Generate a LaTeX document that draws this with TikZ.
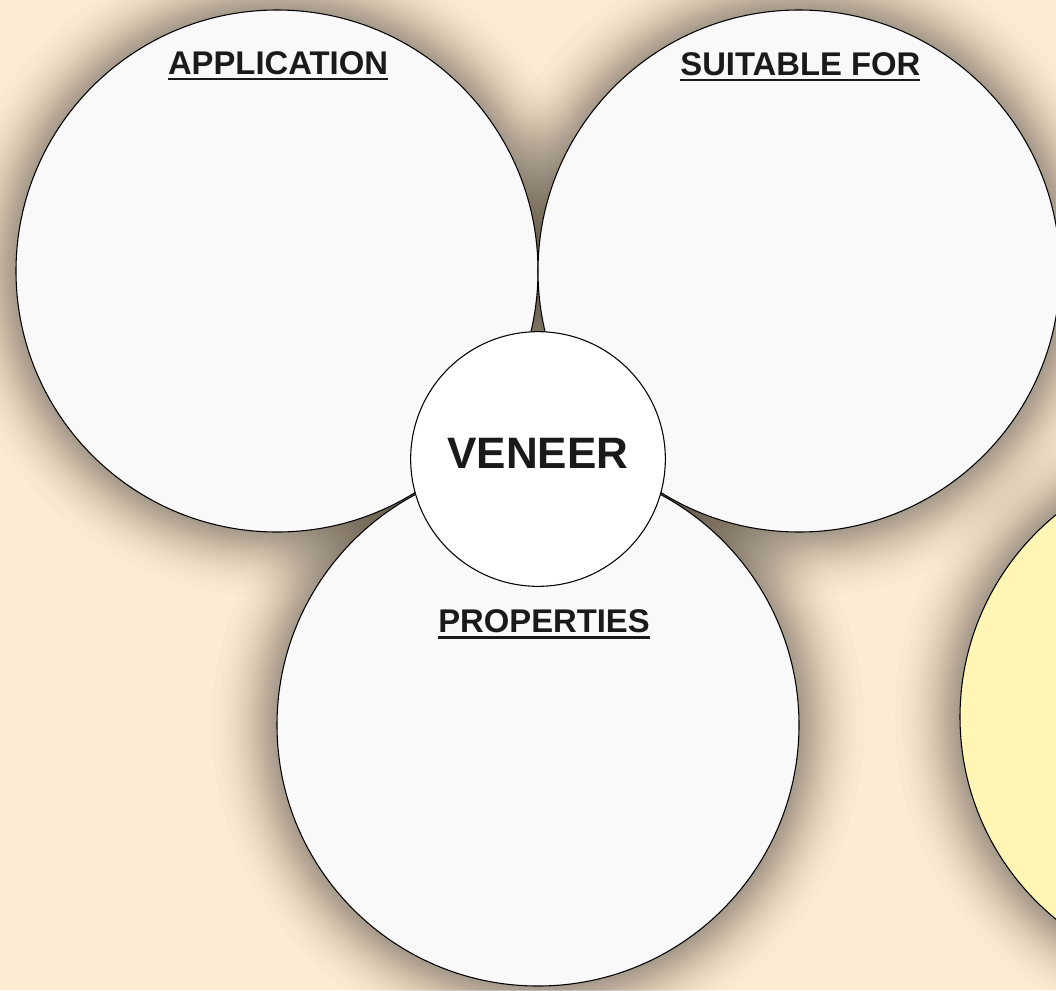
\documentclass[tikz,border=0pt]{standalone}
\usepackage{fontspec}
\setmainfont{Liberation Sans}
\usetikzlibrary{positioning}
\definecolor{bgsand}{HTML}{FDEBD3}
\definecolor{discgray}{HTML}{F9F9F9}
\definecolor{dyellow}{HTML}{FFF5B4}
\definecolor{dtext}{HTML}{1A1A1A}
\newcommand{\ulhead}[1]{\setbox0\hbox{#1}\vtop{\copy0\kern2.2pt\hrule height 1.8pt}}

\begin{document}
\begin{tikzpicture}[x=0.75pt,y=-0.75pt,
                    disc/.style={circle,draw=black,line width=0.8pt,minimum size=391.5pt,
                                 inner sep=0pt,fill=discgray},
                    hub/.style={circle,draw=black,line width=0.8pt,minimum size=191pt,
                                inner sep=0pt,fill=white},
                    heading/.style={anchor=base,text=dtext,
                                    font=\bfseries\fontsize{24.6}{28}\selectfont},
                    glow/.style={black,opacity=0.013}]
  \useasboundingbox (0,0) rectangle (1056,990);
  \clip (0,0) rectangle (1056,990);
  \fill[bgsand] (0,0) rectangle (1056,990);

  % soft shadows
  \foreach \cx/\cy in {277/271,799/271,538/725,1221/717}
    \foreach \k in {1,...,30}
      \fill[glow] (\cx,\cy) circle[radius={261+75*(1-sqrt((\k-0.5)/30))}];

  \node[disc] (application) at (277,271) {};
  \node[disc] (suitable) at (799,271) {};
  \node[disc] (properties) at (538,725) {};
  \node[disc, fill=dyellow] (extra) at (1221,717) {};
  \node[hub] (veneer) at (538,459) {};

  \node[heading] (apptitle) at ([xshift=0.75pt,yshift=-48.75pt]application.north) {\ulhead{APPLICATION}};
  \node[heading] (suittitle) at ([xshift=1pt,yshift=-49.5pt]suitable.north) {\ulhead{SUITABLE FOR}};
  \node[heading] (proptitle) at ([xshift=4.5pt,yshift=-34.5pt]veneer.south) {\ulhead{PROPERTIES}};
  \node[heading, font=\bfseries\fontsize{33}{38}\selectfont] (vlabel)
    at ([yshift=-6.75pt]veneer.center) {VENEER};
\end{tikzpicture}
\end{document}
